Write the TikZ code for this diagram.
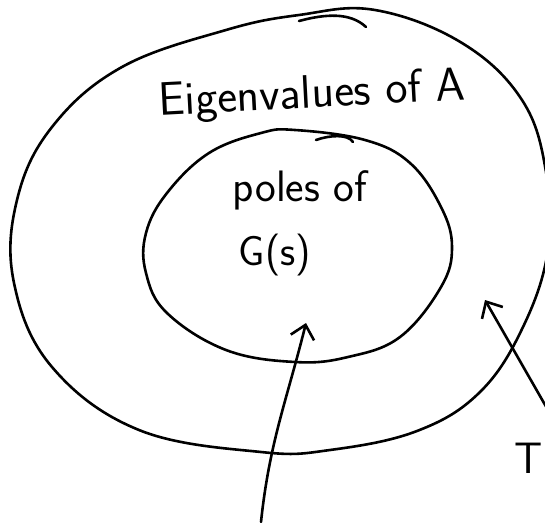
\documentclass[tikz,border=0pt]{standalone}
\usetikzlibrary{arrows.meta}

\begin{document}
\begin{tikzpicture}[x=1pt, y=-1pt,
    ink/.style={line width=2.6pt, line cap=round, line join=round},
    pointer/.style={ink, -{Straight Barb[length=13pt, width=24pt]}},
    hand/.style={font=\sffamily\fontsize{44}{48}\selectfont, inner sep=0pt},
    bighand/.style={font=\sffamily\fontsize{47}{52}\selectfont, inner sep=0pt}
]
\useasboundingbox (0,0) rectangle (545,522);
\clip (0,0) rectangle (545,522);

% outer ring (eigenvalues)
\draw[ink] plot[smooth cycle, tension=0.65] coordinates {
    (375,10) (462,43) (522,100) (546,172) (548,250) (523,327) (480,392)
    (417,431) (330,450) (261,452) (139,430) (52,367) (14,283) (17,200)
    (52,127) (122,67) (226,30) (299,15)};
\draw[ink] (299,21) .. controls (325,14) and (350,12) .. (366,27);

% inner ring (poles)
\draw[ink] plot[smooth cycle, tension=0.65] coordinates {
    (295,130) (365,140) (410,163) (441,207) (452,247) (441,287) (400,337)
    (348,357) (295,362) (226,350) (167,313) (146,273) (146,233) (167,193)
    (209,153) (261,133)};
\draw[ink] (316,140) .. controls (330,135) and (348,134) .. (353,142);

% labels
\node[bighand, rotate=3] (eig) at (312,96) {Eigenvalues of A};
\node[hand] (poles) at (300,190) {poles of};
\node[hand, font=\sffamily\fontsize{42}{46}\selectfont] (gs) at (275,255) {G(s)};
\node[hand, anchor=east] (tz) at (543,458) {T};

% pointers
\coordinate (p0) at (261,522);
\coordinate (p1) at (306,323);
\coordinate (t0) at (548,410);
\coordinate (t1) at (485,300);
\draw[pointer] (p0) to[out=84, in=-104] (p1);
\draw[pointer] (t0) -- (t1);

\end{tikzpicture}
\end{document}
